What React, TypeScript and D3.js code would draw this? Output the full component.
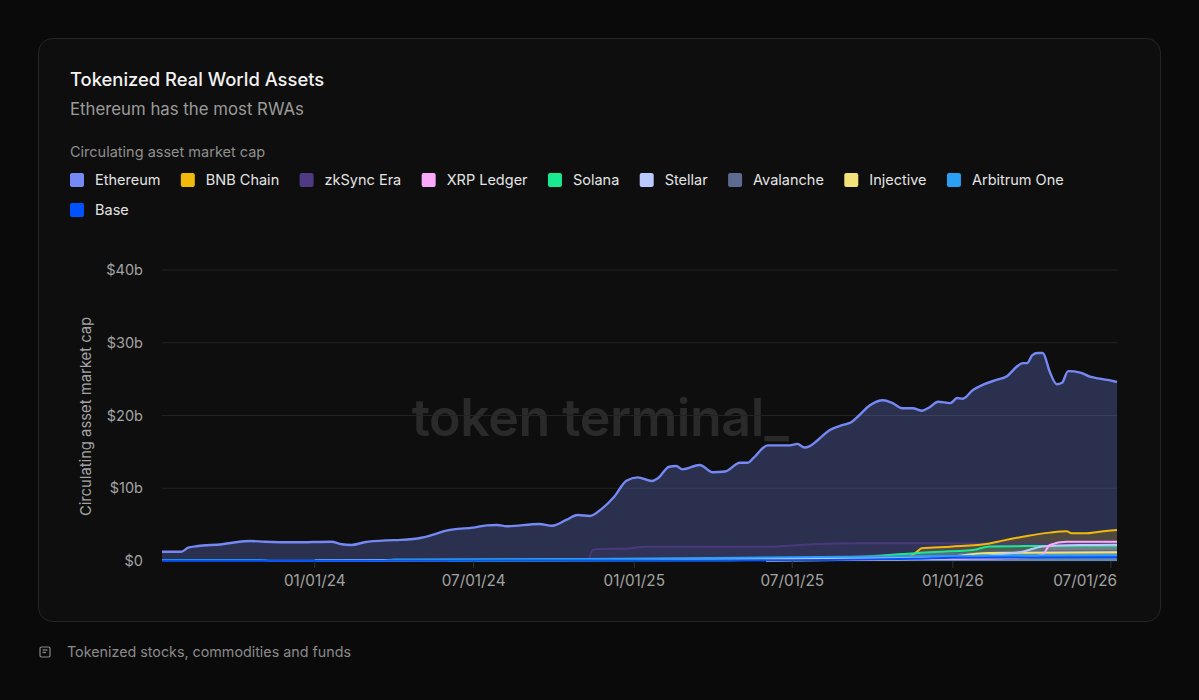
import React from "react";
import * as d3 from "d3";

// ---------- DATA ----------
const SERIES_NAMES = [
  "Ethereum",
  "BNB Chain",
  "zkSync Era",
  "XRP Ledger",
  "Solana",
  "Stellar",
  "Avalanche",
  "Injective",
  "Arbitrum One",
  "Base",
];

const ETHEREUM: [string, number][] = [
  ["2023-07-10", 1.28], ["2023-08-01", 1.28], ["2023-08-09", 1.83], ["2023-08-20", 2.06],
  ["2023-09-17", 2.3], ["2023-10-02", 2.57], ["2023-10-19", 2.75], ["2023-11-05", 2.65],
  ["2023-12-09", 2.57], ["2024-01-20", 2.65], ["2024-02-01", 2.3], ["2024-02-12", 2.2],
  ["2024-02-27", 2.57], ["2024-03-24", 2.84], ["2024-04-09", 2.9], ["2024-05-02", 3.2],
  ["2024-05-17", 3.67], ["2024-06-01", 4.2], ["2024-06-08", 4.35], ["2024-06-30", 4.58],
  ["2024-07-16", 4.9], ["2024-07-28", 4.95], ["2024-08-08", 4.77], ["2024-09-14", 5.09],
  ["2024-09-29", 4.85], ["2024-10-15", 5.64], ["2024-10-28", 6.32], ["2024-11-11", 6.19],
  ["2024-11-25", 7.2], ["2024-12-09", 8.84], ["2024-12-23", 11.04], ["2025-01-05", 11.5],
  ["2025-01-21", 11.0], ["2025-01-28", 11.37], ["2025-02-10", 12.96], ["2025-02-18", 13.06],
  ["2025-02-25", 12.6], ["2025-03-17", 13.2], ["2025-04-01", 12.2], ["2025-04-15", 12.3],
  ["2025-05-02", 13.5], ["2025-05-11", 13.5], ["2025-05-17", 14.1], ["2025-06-03", 15.9],
  ["2025-06-28", 15.9], ["2025-07-07", 16.1], ["2025-07-15", 15.6], ["2025-07-21", 15.8],
  ["2025-07-30", 16.6], ["2025-08-13", 18.0], ["2025-08-28", 18.7], ["2025-09-07", 19.1],
  ["2025-09-16", 20.07], ["2025-09-28", 21.4], ["2025-10-13", 22.1], ["2025-10-24", 21.7],
  ["2025-11-04", 21.0], ["2025-11-16", 21.0], ["2025-11-26", 20.66], ["2025-12-05", 21.1],
  ["2025-12-15", 21.9], ["2025-12-29", 21.7], ["2026-01-06", 22.4], ["2026-01-12", 22.3],
  ["2026-01-24", 23.5], ["2026-02-04", 24.2], ["2026-02-20", 24.9], ["2026-03-04", 25.4],
  ["2026-03-15", 26.7], ["2026-03-22", 27.2], ["2026-03-27", 27.2], ["2026-04-02", 28.3],
  ["2026-04-08", 28.6], ["2026-04-14", 28.6], ["2026-04-22", 26.0], ["2026-04-30", 24.3],
  ["2026-05-06", 24.5], ["2026-05-13", 26.1], ["2026-05-27", 25.9], ["2026-06-08", 25.3],
  ["2026-06-16", 25.1], ["2026-06-27", 24.9], ["2026-07-08", 24.6],
];

const BNB_CHAIN: [string, number][] = [
  ["2024-03-01", 0.05], ["2024-10-01", 0.1], ["2025-06-01", 0.25], ["2025-11-07", 0.4],
  ["2025-11-21", 1.28], ["2025-11-26", 1.74], ["2025-12-29", 1.97], ["2026-02-12", 2.4],
  ["2026-02-27", 2.8], ["2026-03-27", 3.44], ["2026-04-22", 3.9], ["2026-05-11", 4.1],
  ["2026-05-18", 3.8], ["2026-06-03", 3.8], ["2026-06-16", 4.0], ["2026-07-08", 4.26],
];

const ZKSYNC_ERA: [string, number][] = [
  ["2024-11-10", 0.05], ["2024-11-14", 1.5], ["2024-11-22", 1.65], ["2024-12-20", 1.7],
  ["2025-01-15", 1.97], ["2025-06-02", 1.97], ["2025-07-24", 2.3], ["2025-09-16", 2.43],
  ["2025-11-16", 2.45], ["2026-01-15", 2.4], ["2026-07-08", 2.35],
];

const XRP_LEDGER: [string, number][] = [
  ["2025-06-01", 0.1], ["2026-01-01", 0.3], ["2026-03-27", 0.5], ["2026-04-14", 0.9],
  ["2026-04-22", 2.2], ["2026-05-11", 2.65], ["2026-07-08", 2.65],
];

const SOLANA: [string, number][] = [
  ["2024-06-01", 0.05], ["2025-03-01", 0.1], ["2025-09-01", 0.4], ["2025-11-25", 1.15],
  ["2026-01-24", 1.5], ["2026-02-12", 2.0], ["2026-04-08", 2.06], ["2026-07-08", 2.1],
];

const STELLAR: [string, number][] = [
  ["2024-01-01", 0.1], ["2025-06-01", 0.3], ["2025-11-25", 0.37], ["2026-02-24", 0.9],
  ["2026-03-22", 1.28], ["2026-04-14", 2.0], ["2026-05-27", 2.2], ["2026-07-08", 2.25],
];

const AVALANCHE: [string, number][] = [
  ["2024-01-01", 0.05], ["2025-06-01", 0.2], ["2025-09-01", 0.5], ["2025-11-01", 0.9],
  ["2026-01-01", 1.0], ["2026-03-15", 1.3], ["2026-07-08", 1.4],
];

const INJECTIVE: [string, number][] = [
  ["2025-06-01", 0.05], ["2025-12-01", 0.3], ["2026-02-12", 1.1], ["2026-07-08", 1.2],
];

const ARBITRUM_ONE: [string, number][] = [
  ["2023-07-10", 0.15], ["2023-10-30", 0.15], ["2023-11-10", 0.05], ["2024-03-20", 0.05],
  ["2024-04-01", 0.2], ["2024-10-01", 0.25], ["2025-04-01", 0.4], ["2025-09-01", 0.6],
  ["2026-01-01", 0.7], ["2026-07-08", 0.8],
];

const BASE: [string, number][] = [
  ["2023-07-10", 0.02], ["2024-06-01", 0.05], ["2025-06-01", 0.1], ["2025-11-20", 0.3],
  ["2026-01-01", 0.45], ["2026-07-08", 0.5],
];

const SERIES_DATA = [
  ETHEREUM, BNB_CHAIN, ZKSYNC_ERA, XRP_LEDGER, SOLANA, STELLAR, AVALANCHE, INJECTIVE,
  ARBITRUM_ONE, BASE,
];

const Y_TICKS = [0, 10, 20, 30, 40];
const X_TICKS = ["2024-01-01", "2024-07-01", "2025-01-01", "2025-07-01", "2026-01-01", "2026-07-01"];
const X_DOMAIN = ["2023-07-10", "2026-07-08"];

// ---------- STYLE ----------
const COLORS = [
  "#7589f4", "#f0b90b", "#4e3b84", "#fbaafb", "#19e991", "#b9c8ff", "#5c6b8f", "#f3e27c",
  "#2b9ff2", "#0052ff",
];
const DRAW_ORDER = [0, 2, 6, 1, 4, 7, 5, 3, 8, 9];

const FONT = "Inter, 'Noto Sans', sans-serif";
const parse = d3.timeParse("%Y-%m-%d");
const fmt = d3.timeFormat("%m/%d/%y");

function measure(text: string, size: number, weight = 400): number {
  const c = document.createElement("canvas");
  const ctx = c.getContext("2d");
  if (!ctx) return text.length * size * 0.55;
  ctx.font = `${weight} ${size}px Inter`;
  return ctx.measureText(text).width;
}

export default function App() {
  const x0 = 162, x1 = 1117, yTop = 270, yBot = 561;
  const x = d3.scaleTime().domain(X_DOMAIN.map((d) => parse(d) as Date)).range([x0, x1]);
  const y = d3.scaleLinear().domain([0, 40]).range([yBot, yTop]);

  const area = d3
    .area<[Date, number]>()
    .x((d) => x(d[0]))
    .y0(y(0))
    .y1((d) => y(d[1]))
    .curve(d3.curveMonotoneX);
  const line = d3
    .line<[Date, number]>()
    .x((d) => x(d[0]))
    .y((d) => y(d[1]))
    .curve(d3.curveMonotoneX);

  const parsed = SERIES_DATA.map((s) => s.map((p) => [parse(p[0]) as Date, p[1]] as [Date, number]));

  const LEGEND_SIZE = 14.5;
  const legendItems: { name: string; color: string; x: number; y: number }[] = [];
  let lx = 70, ly = 180;
  SERIES_NAMES.forEach((name, i) => {
    const w = 25 + measure(name, LEGEND_SIZE);
    if (lx + w > 1120) {
      lx = 70;
      ly += 30;
    }
    legendItems.push({ name, color: COLORS[i], x: lx, y: ly });
    lx += w + 20.4;
  });

  return (
    <div style={{ position: "fixed", left: 0, top: 0, width: 1199, height: 700, background: "#0a0a0a" }}>
      <svg width={1199} height={700} style={{ display: "block", fontFamily: FONT }}>
        <rect x={0} y={0} width={1199} height={700} fill="#0a0a0a" />
        <rect x={38.5} y={38.5} width={1122} height={583} rx={14} fill="#0e0e0e" stroke="#262626" />

        <text x={70} y={86} fill="#f2f2f2" fontSize={18.4} fontWeight={500}>
          Tokenized Real World Assets
        </text>
        <text x={70} y={115} fill="#9b9b9b" fontSize={16.8}>
          Ethereum has the most RWAs
        </text>
        <text x={70} y={157} fill="#8e8e8e" fontSize={14.5}>
          Circulating asset market cap
        </text>

        {legendItems.map((it) => (
          <g key={it.name}>
            <rect x={it.x} y={it.y - 7} width={14} height={14} rx={2} fill={it.color} />
            <text x={it.x + 25} y={it.y} dy="0.35em" fill="#e4e4e4" fontSize={LEGEND_SIZE}>
              {it.name}
            </text>
          </g>
        ))}

        <text
          x={600}
          y={418}
          textAnchor="middle"
          dy="0.35em"
          fill="#2a2a2a"
          fontSize={52}
          fontWeight={600}
          letterSpacing={-0.5}
        >
          token terminal_
        </text>

        {Y_TICKS.map((t) => (
          <g key={t}>
            <line x1={x0} x2={x1} y1={y(t)} y2={y(t)} stroke="#232323" strokeWidth={1} />
            <text x={143} y={y(t)} dy="0.35em" textAnchor="end" fill="#a3a3a3" fontSize={14.5}>
              {t === 0 ? "$0" : `$${t}b`}
            </text>
          </g>
        ))}

        <text
          transform={`translate(86, ${(yTop + yBot) / 2 + 1}) rotate(-90)`}
          textAnchor="middle"
          dy="0.35em"
          fill="#a3a3a3"
          fontSize={14.8}
        >
          Circulating asset market cap
        </text>

        {DRAW_ORDER.map((i) => (
          <path
            key={SERIES_NAMES[i]}
            d={area(parsed[i]) || ""}
            fill={COLORS[i]}
            fillOpacity={i === 0 ? 0.28 : 0.18}
          />
        ))}
        {DRAW_ORDER.map((i) => (
          <path
            key={SERIES_NAMES[i] + "-l"}
            d={line(parsed[i]) || ""}
            fill="none"
            stroke={COLORS[i]}
            strokeWidth={i === 0 ? 2.4 : 2}
            strokeOpacity={i === 2 ? 0.85 : 1}
            strokeLinejoin="round"
          />
        ))}

        {X_TICKS.map((t) => {
          const d = parse(t) as Date;
          const px = x(d);
          const label = fmt(d);
          const w = measure(label, 15.3);
          let lxp = px;
          let anchor: "middle" | "end" = "middle";
          if (px + w / 2 > x1) {
            lxp = x1;
            anchor = "end";
          }
          return (
            <g key={t}>
              <line x1={px} x2={px} y1={yBot} y2={yBot + 7} stroke="#333" />
              <text x={lxp} y={581} dy="0.35em" textAnchor={anchor} fill="#a3a3a3" fontSize={15.3}>
                {label}
              </text>
            </g>
          );
        })}

        <g stroke="#8a8a8a" fill="none" strokeWidth={1.2}>
          <rect x={40} y={647} width={10} height={10} rx={1.5} />
          <line x1={42.5} x2={47.5} y1={650} y2={650} />
          <line x1={42.5} x2={46} y1={652.5} y2={652.5} />
        </g>
        <text x={67} y={652} dy="0.35em" fill="#8a8a8a" fontSize={14.3}>
          Tokenized stocks, commodities and funds
        </text>
      </svg>
    </div>
  );
}
